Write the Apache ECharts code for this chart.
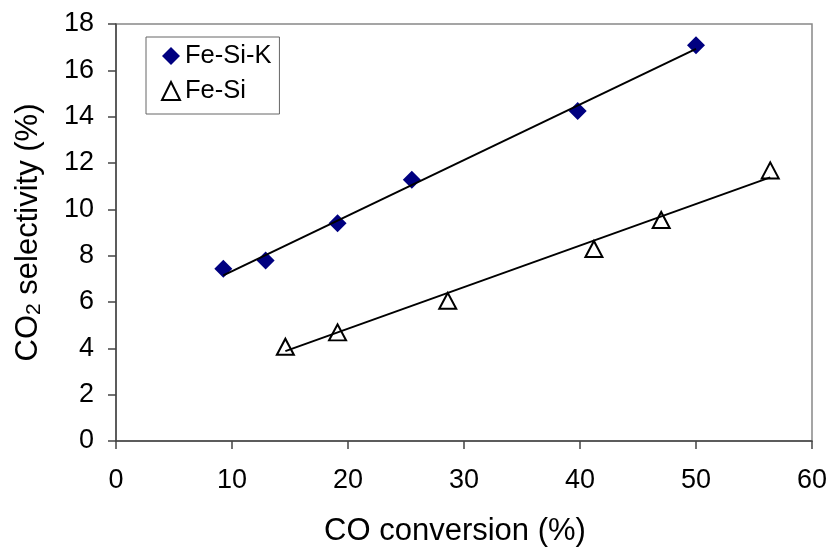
<!DOCTYPE html>
<html>
<head>
<meta charset="utf-8">
<script src="https://cdn.jsdelivr.net/npm/echarts@6/dist/echarts.min.js"></script>
<style>
html,body{margin:0;padding:0;background:#fff;}
#chart{width:831px;height:552px;}
</style>
</head>
<body>
<div id="chart"></div>
<script>
// Data
var feSiKConversion = [9.25, 12.9, 19.1, 25.5, 39.8, 50.0];
var feSiKSelectivity = [7.44, 7.79, 9.40, 11.28, 14.25, 17.08];
var feSiConversion = [14.6, 19.1, 28.6, 41.2, 47.0, 56.4];
var feSiSelectivity = [4.07, 4.69, 6.05, 8.29, 9.54, 11.68];
// Trend line end points
var feSiKTrendX = [9.25, 50.0];
var feSiKTrendY = [7.15, 16.93];
var feSiTrendX = [14.6, 56.4];
var feSiTrendY = [3.88, 11.38];
var seriesNames = ['Fe-Si-K', 'Fe-Si'];
var xTicks = [0, 10, 20, 30, 40, 50, 60];
var yTicks = [0, 2, 4, 6, 8, 10, 12, 14, 16, 18];

function pairs(xs, ys) { return xs.map(function (x, i) { return [x, ys[i]]; }); }

var FONT = '"Liberation Sans", Arial, sans-serif';
var chart = echarts.init(document.getElementById('chart'), null, {renderer: 'canvas'});
chart.setOption({
  animation: false,
  backgroundColor: '#ffffff',
  textStyle: {fontFamily: FONT},
  grid: {left: 116, right: 19, top: 24, bottom: 106, show: true, borderColor: '#888888', borderWidth: 1.5},
  legend: {
    data: seriesNames,
    orient: 'vertical',
    left: 146, top: 37,
    padding: [6, 8, 10, 15],
    itemGap: 9,
    itemWidth: 18, itemHeight: 18,
    itemTextGap: 6,
    borderColor: '#666666', borderWidth: 1,
    textStyle: {fontFamily: FONT, fontSize: 25.5, color: '#000', lineHeight: 25}
  },
  xAxis: {
    type: 'value', min: xTicks[0], max: xTicks[xTicks.length - 1], interval: 10,
    name: 'CO conversion (%)', nameLocation: 'middle', nameGap: 75,
    nameTextStyle: {fontFamily: FONT, fontSize: 31, color: '#000', padding: [0, 18, 0, 0]},
    axisLine: {show: true, onZero: false, lineStyle: {color: '#444', width: 1.5}},
    axisTick: {show: true, length: 8, lineStyle: {color: '#444', width: 1.5}},
    axisLabel: {fontFamily: FONT, fontSize: 27, color: '#000', margin: 26},
    splitLine: {show: false}
  },
  yAxis: {
    type: 'value', min: yTicks[0], max: yTicks[yTicks.length - 1], interval: 2,
    name: '{a|CO}{b|2}{a| selectivity (%)}', nameLocation: 'middle', nameGap: 71, nameRotate: 90,
    nameTextStyle: {
      fontFamily: FONT, fontSize: 31, color: '#000',
      rich: {
        a: {fontFamily: FONT, fontSize: 31, color: '#000'},
        b: {fontFamily: FONT, fontSize: 21, color: '#000', verticalAlign: 'bottom', padding: [12, 0, 0, 0]}
      }
    },
    axisLine: {show: true, lineStyle: {color: '#444', width: 1.5}},
    axisTick: {show: true, length: 8, lineStyle: {color: '#444', width: 1.5}},
    axisLabel: {fontFamily: FONT, fontSize: 27, color: '#000', margin: 22},
    splitLine: {show: false}
  },
  series: [
    {
      name: seriesNames[0], type: 'scatter', symbol: 'diamond', symbolSize: 18,
      itemStyle: {color: '#000080', opacity: 1}, z: 2,
      data: pairs(feSiKConversion, feSiKSelectivity)
    },
    {
      name: seriesNames[1], type: 'scatter', symbol: 'triangle', symbolSize: [17, 16],
      itemStyle: {color: '#ffffff', borderColor: '#000000', borderWidth: 2, opacity: 1}, z: 2,
      data: pairs(feSiConversion, feSiSelectivity)
    },
    {
      name: 'trendK', type: 'line', symbol: 'none', silent: true, z: 3,
      lineStyle: {color: '#000', width: 2},
      data: pairs(feSiKTrendX, feSiKTrendY)
    },
    {
      name: 'trend', type: 'line', symbol: 'none', silent: true, z: 3,
      lineStyle: {color: '#000', width: 2},
      data: pairs(feSiTrendX, feSiTrendY)
    }
  ]
});
</script>
</body>
</html>
